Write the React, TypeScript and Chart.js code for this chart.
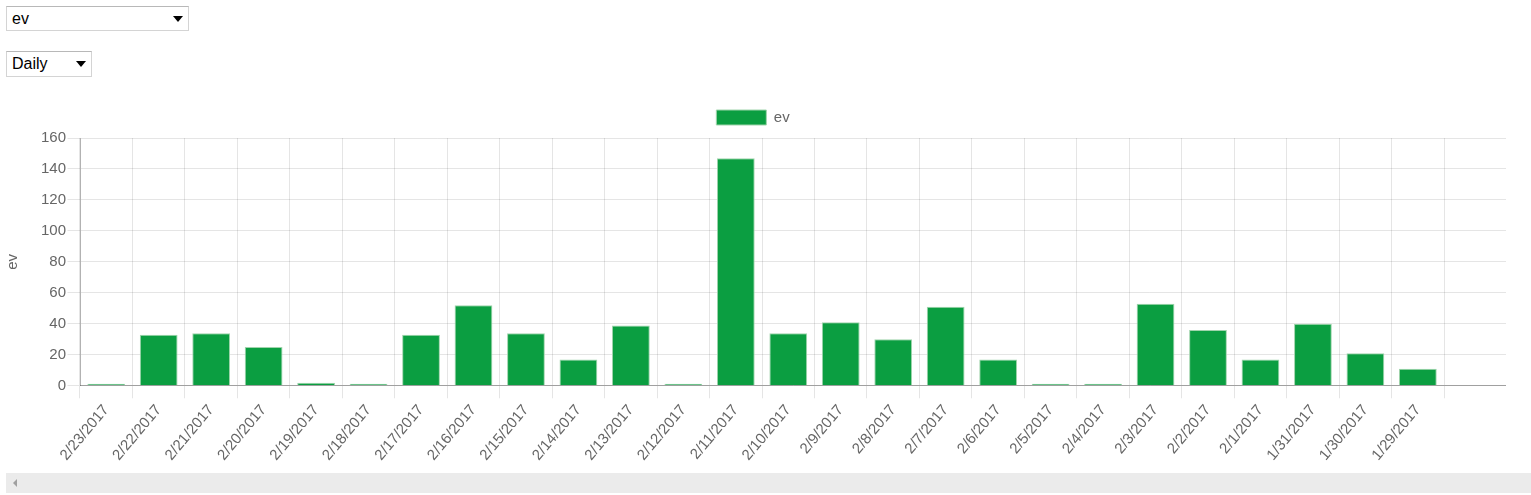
import React, { useEffect, useRef } from 'react';
import { Chart, registerables, CategoryScale } from 'chart.js';

Chart.register(...registerables);

// ---- data ----
const categories = [
  '2/23/2017', '2/22/2017', '2/21/2017', '2/20/2017', '2/19/2017', '2/18/2017',
  '2/17/2017', '2/16/2017', '2/15/2017', '2/14/2017', '2/13/2017', '2/12/2017',
  '2/11/2017', '2/10/2017', '2/9/2017', '2/8/2017', '2/7/2017', '2/6/2017',
  '2/5/2017', '2/4/2017', '2/3/2017', '2/2/2017', '2/1/2017', '1/31/2017',
  '1/30/2017', '1/29/2017',
];
const evValues = [
  0, 33, 34, 25, 2, 0,
  33, 52, 34, 17, 39, 0,
  147, 34, 41, 30, 51, 17,
  0, 0, 53, 36, 17, 40,
  21, 11,
];
const seriesLabel = 'ev';
const yAxisTitle = 'ev';
const yMin = 0;
const yMax = 160;
const yStep = 20;
const metricOptions = ['ev'];
const periodOptions = ['Daily'];

// empty room left after the last category, in category widths
const X_TRAILING_SLOTS = 1.18;

class TrailingCategoryScale extends CategoryScale {
  static id = 'trailingCategory';
  static defaults = { ...(CategoryScale as any).defaults };
  buildTicks() {
    const ticks = super.buildTicks();
    (this as any)._valueRange += X_TRAILING_SLOTS;
    return ticks;
  }
}
Chart.register(TrailingCategoryScale as any);

const FONT = 'Arial, "Liberation Sans", Helvetica, sans-serif';
const TEXT = '#666';
const GREEN = '#0b9e41';

const legendGap = {
  id: 'legendGap',
  beforeInit(chart: any) {
    const legend = chart.legend;
    if (!legend) return;
    const origFit = legend.fit;
    legend.fit = function () {
      origFit.call(this);
      this.height += 3;
    };
  },
};

function FakeSelect(props: { left: number; top: number; width: number; height: number; value: string }) {
  const { left, top, width, height, value } = props;
  return (
    <div
      style={{
        position: 'absolute',
        left,
        top,
        width,
        height,
        boxSizing: 'border-box',
        border: '1px solid #d4d4d4',
        borderTopColor: '#b8b8b8',
        background: '#fff',
        fontFamily: FONT,
        fontSize: 16,
        color: '#000',
      }}
    >
      <span style={{ position: 'absolute', left: 5, top: 0, lineHeight: `${height - 2}px` }}>{value}</span>
      <span
        style={{
          position: 'absolute',
          right: 5,
          top: (height - 2) / 2 - 3,
          width: 0,
          height: 0,
          borderLeft: '5px solid transparent',
          borderRight: '5px solid transparent',
          borderTop: '6px solid #000',
        }}
      />
    </div>
  );
}

export default function App() {
  const canvasRef = useRef<HTMLCanvasElement | null>(null);

  useEffect(() => {
    if (!canvasRef.current) return;
    const chart = new Chart(canvasRef.current, {
      type: 'bar',
      plugins: [legendGap],
      data: {
        labels: categories,
        datasets: [
          {
            label: seriesLabel,
            data: evValues,
            backgroundColor: GREEN,
            borderColor: 'rgba(160,212,172,1)',
            borderWidth: 1,
            minBarLength: 2,
            categoryPercentage: 0.8,
            barPercentage: 0.9,
          },
        ],
      },
      options: {
        responsive: false,
        animation: false,
        devicePixelRatio: 1,
        layout: { padding: 0 },
        font: { family: FONT, size: 15 },
        plugins: {
          legend: {
            display: true,
            position: 'top',
            labels: {
              boxWidth: 50,
              boxHeight: 15,
              color: TEXT,
              font: { family: FONT, size: 15 },
              padding: 12,
            },
          },
          tooltip: { enabled: false },
        },
        scales: {
          x: {
            type: 'trailingCategory' as any,
            offset: true,
            grid: {
              offset: true,
              color: 'rgba(0,0,0,0.1)',
              tickLength: 12.5,
              drawTicks: true,
            },
            border: { color: 'rgba(0,0,0,0.3)' },
            ticks: {
              color: TEXT,
              font: { family: FONT, size: 15 },
              minRotation: 50,
              maxRotation: 50,
              autoSkip: false,
              padding: 3,
            },
          },
          y: {
            min: yMin,
            max: yMax,
            grid: {
              color: 'rgba(0,0,0,0.1)',
              tickLength: 12.5,
            },
            border: { color: 'rgba(0,0,0,0.3)' },
            ticks: {
              stepSize: yStep,
              color: TEXT,
              font: { family: FONT, size: 15 },
              padding: 1.5,
            },
            title: {
              display: true,
              text: yAxisTitle,
              color: TEXT,
              font: { family: FONT, size: 15 },
              padding: { top: 4, bottom: 4 },
            },
            afterFit: (scale: any) => {
              scale.width = 80;
            },
          },
        },
      },
    });
    return () => chart.destroy();
  }, []);

  return (
    <div style={{ position: 'fixed', left: 0, top: 0, width: 1531, height: 495, background: '#fff', overflow: 'hidden' }}>
      <FakeSelect left={6} top={6} width={183} height={25} value={metricOptions[0]} />
      <FakeSelect left={6} top={51} width={86} height={26} value={periodOptions[0]} />
      <div style={{ position: 'absolute', left: 0, top: 98, width: 1506, height: 369 }}>
        <canvas ref={canvasRef} width={1506} height={369} style={{ display: 'block' }} />
      </div>
      <div
        style={{
          position: 'absolute',
          left: 6,
          top: 473,
          width: 1525,
          height: 20,
          background: '#ebebeb',
        }}
      >
        <span
          style={{
            position: 'absolute',
            left: 7,
            top: 6,
            width: 0,
            height: 0,
            borderTop: '4px solid transparent',
            borderBottom: '4px solid transparent',
            borderRight: '4px solid #a0a0a0',
          }}
        />
      </div>
    </div>
  );
}
